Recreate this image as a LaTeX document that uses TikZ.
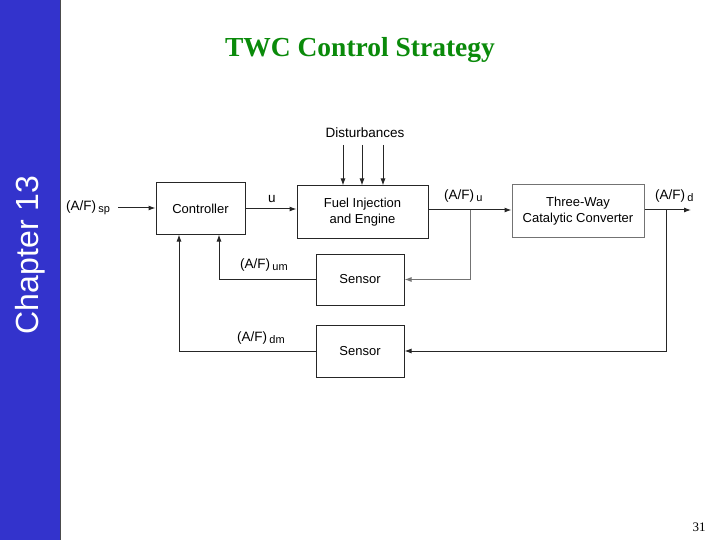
\documentclass[tikz,border=0pt]{standalone}
\usepackage{fontspec}
\setmainfont{Liberation Serif}
\setsansfont{Liberation Sans}
\usetikzlibrary{arrows.meta}
\definecolor{barblue}{HTML}{3333CC}
\definecolor{titlegreen}{HTML}{0A8A0A}
\tikzset{
  blk/.style={draw=black!85, line width=1pt, minimum width=#1, inner sep=0pt, align=center, font=\sffamily\fontsize{13}{16}\selectfont},
  lbl/.style={font=\sffamily\fontsize{13.5}{15}\selectfont, inner sep=0pt},
  sig/.style={draw=black!85, line width=1pt, -{Latex[length=7pt,width=5pt]}},
  sigg/.style={draw=black!55, line width=1pt, -{Latex[length=7pt,width=5pt]}},
}
\newcommand{\sbs}[1]{\,\raisebox{-2.5pt}{\fontsize{11}{11}\selectfont #1}}
\begin{document}
\begin{tikzpicture}[x=1pt,y=-1pt]
\useasboundingbox (0,0) rectangle (720,540);
\fill[white] (0,0) rectangle (720,540);
\fill[barblue] (0,0) rectangle (60,540);
\draw[black!70, line width=1pt] (60,0) -- (60,540);
\node[rotate=90, text=white, font=\sffamily\fontsize{32}{36}\selectfont] (chap) at (30,255) {Chapter 13};
\node[text=titlegreen, font=\rmfamily\bfseries\fontsize{27.5}{30}\selectfont] (title) at (360,50) {TWC Control Strategy};
\node[font=\rmfamily\fontsize{13}{15}\selectfont] (pg) at (699,527) {31};

% blocks
\node[blk=89pt, minimum height=51pt] (ctrl) at (200.5,208.5) {Controller};
\node[blk=131pt, minimum height=52pt] (fuel) at (362.5,212) {Fuel Injection\\and Engine};
\node[blk=132pt, minimum height=52pt, draw=black!55] (twc) at (578,211) {Three-Way\\Catalytic Converter};
\node[blk=88pt, minimum height=51pt] (s1) at (360,279.5) {Sensor};
\node[blk=88pt, minimum height=52pt] (s2) at (360,351) {Sensor};

% labels
\node[lbl] (dist) at (365,133) {Disturbances};
\node[lbl, anchor=west] (sp) at (66,208) {(A/F)\sbs{sp}};
\node[lbl] (u) at (272,199) {u};
\node[lbl, anchor=west] (afu) at (444,196) {(A/F)\sbs{u}};
\node[lbl, anchor=west] (afd) at (655,196) {(A/F)\sbs{d}};
\node[lbl, anchor=west] (afum) at (240,265) {(A/F)\sbs{um}};
\node[lbl, anchor=west] (afdm) at (237,338) {(A/F)\sbs{dm}};

% coordinates
\coordinate (spin) at (118,208);
\coordinate (dout) at (691,210);
\coordinate (b1) at (470,210);
\coordinate (b2) at (666,210);
\coordinate (d1) at (343,145);
\coordinate (d2) at (362,145);
\coordinate (d3) at (383,145);

% forward path
\draw[sig] (spin) -- (ctrl.west |- spin);
\draw[sig] (ctrl.east |- 0,209) -- (fuel.west |- 0,209);
\draw[sig] (fuel.east |- 0,210) -- (twc.west |- 0,210);
\draw[sig] (twc.east |- 0,210) -- (dout);
\draw[sig] (d1) -- (d1 |- fuel.north);
\draw[sig] (d2) -- (d2 |- fuel.north);
\draw[sig] (d3) -- (d3 |- fuel.north);

% feedback
\draw[sigg] (b1) |- (s1.east);
\draw[sig] (b2) |- (s2.east);
\draw[sig] (s1.west) -| (219,0 |- ctrl.south);
\draw[sig] (s2.west) -| (179,0 |- ctrl.south);
\end{tikzpicture}
\end{document}
